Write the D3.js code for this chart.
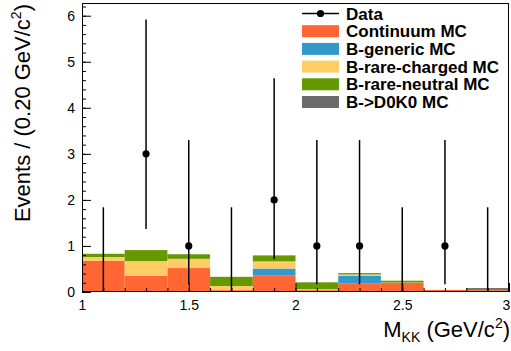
<!DOCTYPE html>
<html>
<head>
<meta charset="utf-8">
<script src="https://cdn.jsdelivr.net/npm/d3@7/dist/d3.min.js"></script>
<style>
  html, body { margin: 0; padding: 0; background: #fff; }
  svg { display: block; font-family: "Liberation Sans", Arial, Helvetica, sans-serif; }
</style>
</head>
<body>
<svg id="chart" width="511" height="351"></svg>
<script>
// ---- data ----
const binEdges = [1.0, 1.2, 1.4, 1.6, 1.8, 2.0, 2.2, 2.4, 2.6, 2.8, 3.0];
const continuumMC    = [0.68, 0.35, 0.52, 0.04, 0.355, 0.04, 0.19, 0.195, 0.045, 0.04];
const bGenericMC     = [0.00, 0.00, 0.00, 0.00, 0.155, 0.00, 0.16, 0.00, 0.00, 0.00];
const bRareChargedMC = [0.08, 0.32, 0.20, 0.09, 0.155, 0.02, 0.03, 0.01, 0.00, 0.00];
const bRareNeutralMC = [0.07, 0.24, 0.10, 0.20, 0.13, 0.15, 0.03, 0.04, 0.00, 0.005];
const bD0K0MC        = [0.00, 0.00, 0.00, 0.00, 0.00, 0.00, 0.00, 0.00, 0.00, 0.04];
const dataX    = [1.1, 1.3, 1.5, 1.7, 1.9, 2.1, 2.3, 2.5, 2.7, 2.9];
const dataY    = [0, 3, 1, 0, 2, 1, 1, 0, 1, 0];
const dataLow  = [0, 1.37, 0.17, 0, 0.71, 0.17, 0.17, 0, 0.17, 0];
const dataHigh = [1.84, 5.92, 3.30, 1.84, 4.64, 3.30, 3.30, 1.84, 3.30, 1.84];
const seriesNames  = ["Continuum MC", "B-generic MC", "B-rare-charged MC", "B-rare-neutral MC", "B->D0K0 MC"];
const seriesColors = ["#ff6633", "#3399cc", "#ffcc66", "#669900", "#6b6b6b"];
const xMajorTicks = [1, 1.5, 2, 2.5, 3];
const yMajorTicks = [0, 1, 2, 3, 4, 5, 6];

// ---- layout ----
const svg = d3.select("#chart");
const L = 82, R = 509, T = 3, B = 292;
const x = d3.scaleLinear().domain([1, 3]).range([L, R]);
const y = d3.scaleLinear().domain([0, 6.276]).range([B, T]);

// stacked bars
const seriesArrays = [continuumMC, bGenericMC, bRareChargedMC, bRareNeutralMC, bD0K0MC];
const rows = binEdges.slice(0, -1).map((e, i) => {
  const r = { x0: e, x1: binEdges[i + 1] };
  seriesNames.forEach((n, s) => r[n] = seriesArrays[s][i]);
  return r;
});
const stack = d3.stack().keys(seriesNames)(rows);
const gBars = svg.append("g");
stack.forEach((layer, s) => {
  gBars.selectAll(null).data(layer).enter().append("rect")
    .attr("x", d => x(d.data.x0))
    .attr("width", d => x(d.data.x1) - x(d.data.x0))
    .attr("y", d => y(d[1]))
    .attr("height", d => Math.max(0, y(d[0]) - y(d[1])))
    .attr("fill", seriesColors[s]);
});

// axes
function styleAxis(g) {
  g.select(".domain").remove();
  g.selectAll("line").attr("stroke", "#000").attr("stroke-width", 1);
  g.selectAll("text").attr("font-size", 14).attr("fill", "#000")
    .attr("font-family", "'Liberation Sans', Arial, sans-serif");
}
const yMinor = d3.range(0, 6.25, 0.2).map(v => +v.toFixed(2));
svg.append("g").attr("transform", `translate(${L},0)`)
  .call(d3.axisLeft(y).tickValues(yMinor).tickSize(-4).tickFormat(""))
  .call(styleAxis);
svg.append("g").attr("transform", `translate(${L},0)`)
  .call(d3.axisLeft(y).tickValues(yMajorTicks).tickSize(-9).tickPadding(7).tickFormat(d3.format("d")))
  .call(styleAxis);
const xMinor = d3.range(1, 3.001, 0.1).map(v => +v.toFixed(2));
svg.append("g").attr("transform", `translate(0,${B})`)
  .call(d3.axisBottom(x).tickValues(xMinor).tickSize(-4).tickFormat(""))
  .call(styleAxis);
svg.append("g").attr("transform", `translate(0,${B})`)
  .call(d3.axisBottom(x).tickValues(xMajorTicks).tickSize(-9).tickPadding(8).tickFormat(d => String(d)))
  .call(styleAxis)
  .call(g => g.selectAll(".tick text").filter(d => d === 3).attr("dx", -3));

// frame
svg.append("rect").attr("x", L + 0.5).attr("y", T + 0.5)
  .attr("width", R - L - 1).attr("height", B - T - 1)
  .attr("fill", "none").attr("stroke", "#000").attr("stroke-width", 1);

// data points
const gData = svg.append("g");
dataX.forEach((xv, i) => {
  gData.append("line")
    .attr("x1", x(xv)).attr("x2", x(xv))
    .attr("y1", y(dataLow[i])).attr("y2", y(dataHigh[i]))
    .attr("stroke", "#000").attr("stroke-width", 1.5);
  if (dataY[i] > 0) {
    gData.append("circle").attr("cx", x(xv)).attr("cy", y(dataY[i])).attr("r", 3.6).attr("fill", "#000");
  }
});

// legend
const lg = svg.append("g");
const legX = 302, legW = 37, legTextX = 346, legY0 = 13.5, legStep = 17.7;
lg.append("line").attr("x1", legX).attr("x2", legX + legW).attr("y1", legY0).attr("y2", legY0)
  .attr("stroke", "#000").attr("stroke-width", 1.5);
lg.append("circle").attr("cx", legX + legW / 2).attr("cy", legY0).attr("r", 3.6).attr("fill", "#000");
lg.append("text").attr("x", legTextX).attr("y", legY0).attr("dy", "0.36em")
  .attr("font-size", 17).attr("font-weight", "bold").text("Data");
seriesNames.forEach((n, s) => {
  const cy = legY0 + legStep * (s + 1);
  lg.append("rect").attr("x", legX).attr("y", cy - 6).attr("width", legW).attr("height", 12)
    .attr("fill", seriesColors[s]);
  lg.append("text").attr("x", legTextX).attr("y", cy).attr("dy", "0.36em")
    .attr("font-size", 17).attr("font-weight", "bold").text(n);
});

// axis titles
const yt = svg.append("text").attr("transform", `translate(30,${T + 1}) rotate(-90)`)
  .attr("text-anchor", "end").attr("font-size", 22);
yt.append("tspan").text("Events / (0.20 GeV/c");
yt.append("tspan").attr("font-size", 14).attr("dy", -9).text("2");
yt.append("tspan").attr("dy", 9).text(")");

const xt = svg.append("text").attr("x", R + 1).attr("y", 337)
  .attr("text-anchor", "end").attr("font-size", 22);
xt.append("tspan").text("M");
xt.append("tspan").attr("font-size", 14).attr("dy", 5).text("KK");
xt.append("tspan").attr("dy", -5).text(" (GeV/c");
xt.append("tspan").attr("font-size", 14).attr("dy", -9).text("2");
xt.append("tspan").attr("dy", 9).text(")");
</script>
</body>
</html>
